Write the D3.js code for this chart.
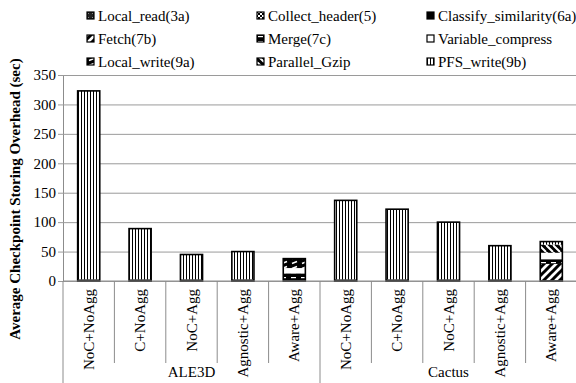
<!DOCTYPE html>
<html>
<head>
<meta charset="utf-8">
<script src="https://cdn.jsdelivr.net/npm/d3@7"></script>
<style>
  html, body { margin: 0; padding: 0; background: #fff; }
  svg { display: block; }
  svg text { font-family: "Liberation Serif", "Times New Roman", "DejaVu Serif", serif; }
</style>
</head>
<body>
<svg id="chart" width="576" height="383"></svg>
<script>
// Categories (two applications, five configurations each)
const groups = ["ALE3D", "Cactus"];
const configs = ["NoC+NoAgg", "C+NoAgg", "NoC+Agg", "Agnostic+Agg", "Aware+Agg"];

// Stacked components, bottom to top
const phases = ["Local_read(3a)", "Collect_header(5)", "Classify_similarity(6a)", "Fetch(7b)",
                "Merge(7c)", "Variable_compress", "Local_write(9a)", "Parallel_Gzip", "PFS_write(9b)"];

// Seconds per phase, one array per phase, ten bars (ALE3D x5, Cactus x5)
const localRead    = [3, 3, 3, 3, 1,   3, 3, 3, 3, 1];
const collectHdr   = [0, 0, 0, 0, 0,   0, 0, 0, 0, 0];
const classifySim  = [0, 0, 0, 0, 0,   0, 0, 0, 0, 0];
const fetch7b      = [0, 0, 0, 0, 0,   0, 0, 0, 0, 28];
const merge7c      = [0, 0, 0, 0, 12,  0, 0, 0, 0, 8];
const varCompress  = [0, 0, 0, 0, 9,   0, 0, 0, 0, 11];
const localWrite   = [0, 0, 0, 0, 16,  0, 0, 0, 0, 0];
const parallelGzip = [0, 0, 0, 0, 0,   0, 0, 0, 0, 14];
const pfsWrite     = [320, 86, 42, 47, 0,   134, 119, 97, 57, 5];

const yTicks = [0, 50, 100, 150, 200, 250, 300, 350];

const series = [localRead, collectHdr, classifySim, fetch7b, merge7c, varCompress, localWrite, parallelGzip, pfsWrite];
const bars = [];
groups.forEach((g, gi) => configs.forEach((c, ci) => {
  const i = gi * configs.length + ci;
  const row = { key: i, group: g, config: c };
  phases.forEach((p, pi) => row[p] = series[pi][i]);
  bars.push(row);
}));

const FONT = "'Liberation Serif', 'Times New Roman', 'DejaVu Serif', serif";
const svg = d3.select("#chart").attr("font-family", FONT);
const plotL = 63, plotR = 577, plotT = 75, plotB = 281;

// Fill patterns
const defs = svg.append("defs");
function pattern(id, w, h, draw) {
  const p = defs.append("pattern").attr("id", id).attr("patternUnits", "userSpaceOnUse")
    .attr("width", w).attr("height", h);
  draw(p);
}
pattern("p-read", 4, 4, p => {
  p.append("rect").attr("width", 4).attr("height", 4).attr("fill", "#222");
  p.append("rect").attr("x", 1).attr("y", 1).attr("width", 1).attr("height", 1).attr("fill", "#888");
});
pattern("p-header", 4, 4, p => {
  p.append("rect").attr("width", 4).attr("height", 4).attr("fill", "#fff");
  p.append("path").attr("d", "M0,4L4,0M0,0L4,4").attr("stroke", "#000").attr("stroke-width", 1);
});
pattern("p-classify", 4, 4, p => {
  p.append("rect").attr("width", 4).attr("height", 4).attr("fill", "#000");
});
pattern("p-fetch", 8, 8, p => {
  p.append("rect").attr("width", 8).attr("height", 8).attr("fill", "#fff");
  p.append("path").attr("d", "M-2,10L10,-2M-6,6L6,-6M2,14L14,2").attr("stroke", "#000").attr("stroke-width", 3);
});
pattern("p-merge", 10, 5, p => {
  p.append("rect").attr("width", 10).attr("height", 5).attr("fill", "#000");
  p.append("rect").attr("x", 1).attr("y", 2).attr("width", 5).attr("height", 1.2).attr("fill", "#fff");
});
pattern("p-varc", 4, 4, p => {
  p.append("rect").attr("width", 4).attr("height", 4).attr("fill", "#fff");
});
pattern("p-lwrite", 10, 5, p => {
  p.append("rect").attr("width", 10).attr("height", 5).attr("fill", "#000");
  p.append("path").attr("d", "M2,3.5L7,1.5").attr("stroke", "#fff").attr("stroke-width", 1.4);
});
pattern("p-gzip", 7, 7, p => {
  p.append("rect").attr("width", 7).attr("height", 7).attr("fill", "#000");
  p.append("path").attr("d", "M0,0L7,7M-7,0L0,7M0,-7L7,0").attr("stroke", "#fff").attr("stroke-width", 2);
});
pattern("p-pfs", 3, 4, p => {
  p.append("rect").attr("width", 3).attr("height", 4).attr("fill", "#fff");
  p.append("rect").attr("x", 0).attr("width", 1).attr("height", 4).attr("fill", "#000");
});
const fills = ["p-read", "p-header", "p-classify", "p-fetch", "p-merge", "p-varc", "p-lwrite", "p-gzip", "p-pfs"];

// Scales
const x = d3.scaleBand().domain(bars.map(d => d.key)).range([plotL, plotR])
  .paddingInner(0.57).paddingOuter(0.285);
const y = d3.scaleLinear().domain([0, 350]).range([plotB, plotT]);

// Gridlines and y axis
const yAxis = d3.axisLeft(y).tickValues(yTicks).tickSize(-(plotR - plotL)).tickPadding(7).tickSizeOuter(0);
const gy = svg.append("g").attr("transform", `translate(${plotL},0)`).call(yAxis)
  .attr("font-family", FONT).attr("font-size", 15);
gy.select(".domain").attr("stroke", "#8c8c8c");
gy.selectAll(".tick line").attr("stroke", "#9a9a9a").attr("stroke-width", 1)
  .attr("x1", -5);
gy.selectAll(".tick text").attr("fill", "#000");

// Stacked bars
const stack = d3.stack().keys(phases);
const layers = stack(bars);
svg.append("g").selectAll("g").data(layers).join("g")
  .attr("fill", (d, i) => `url(#${fills[i]})`)
  .selectAll("rect").data(d => d.filter(s => s[1] - s[0] > 0)).join("rect")
  .attr("x", d => x(d.data.key))
  .attr("width", x.bandwidth())
  .attr("y", d => y(d[1]))
  .attr("height", d => y(d[0]) - y(d[1]));

// Outline each full bar
svg.append("g").selectAll("rect").data(bars).join("rect")
  .attr("x", d => x(d.key))
  .attr("width", x.bandwidth())
  .attr("y", d => y(d3.sum(phases, p => d[p])))
  .attr("height", d => y(0) - y(d3.sum(phases, p => d[p])))
  .attr("fill", "none").attr("stroke", "#000").attr("stroke-width", 1.6);

// Baseline
svg.append("line").attr("x1", plotL).attr("x2", plotR).attr("y1", plotB).attr("y2", plotB)
  .attr("stroke", "#8c8c8c");

// Category axis: separators and rotated labels
const step = x.step();
const cat = svg.append("g");
bars.forEach((d, i) => {
  const sx = x(d.key) - x.paddingInner() * step / 2;
  const isGroupEdge = i % configs.length === 0;
  cat.append("line").attr("x1", sx).attr("x2", sx).attr("y1", plotB)
    .attr("y2", isGroupEdge ? 383 : 363).attr("stroke", "#8c8c8c");
});
cat.selectAll("text.cfg").data(bars).join("text").attr("class", "cfg")
  .attr("transform", d => `translate(${x(d.key) + x.bandwidth() / 2 + 5},${plotB + 8}) rotate(-90)`)
  .attr("text-anchor", "end").attr("font-size", 15).text(d => d.config);

// Group labels
groups.forEach((g, gi) => {
  const first = x(gi * configs.length), last = x(gi * configs.length + configs.length - 1) + x.bandwidth();
  svg.append("text").attr("x", (first + last) / 2).attr("y", 377).attr("text-anchor", "middle")
    .attr("font-size", 15).text(g);
});

// Y axis title
svg.append("text").attr("transform", "translate(20,199) rotate(-90)")
  .attr("text-anchor", "middle").attr("font-size", 15).attr("font-weight", "bold")
  .text("Average Checkpoint Storing Overhead (sec)");

// Legend, three columns
const legCols = [87, 257, 427], legRows = [16, 39, 62];
const leg = svg.append("g").selectAll("g").data(phases).join("g")
  .attr("transform", (d, i) => `translate(${legCols[i % 3]},${legRows[Math.floor(i / 3)]})`);
leg.append("rect").attr("x", 0).attr("y", -4).attr("width", 7).attr("height", 7)
  .attr("fill", (d, i) => `url(#${fills[i]})`).attr("stroke", "#000").attr("stroke-width", 1.2);
leg.append("text").attr("x", 11).attr("y", 5).attr("font-size", 15).text(d => d);
</script>
</body>
</html>
